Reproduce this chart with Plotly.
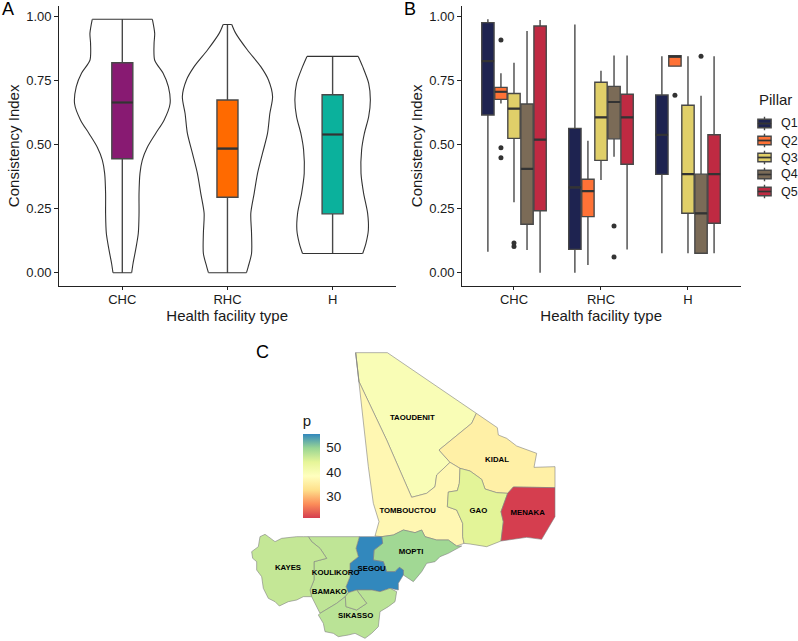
import plotly.graph_objects as go
from plotly.colors import sample_colorscale

W, H = 798, 641

# ---------- Panel A data ----------
facility_types = ["CHC", "RHC", "H"]
facility_pos = [1, 2, 3]
a_q1 = [0.445, 0.295, 0.23]
a_median = [0.665, 0.485, 0.54]
a_q3 = [0.82, 0.675, 0.695]
a_low = [0.0, 0.0, 0.075]
a_up = [0.99, 0.97, 0.845]
a_colors = ["#881a72", "#ff6a00", "#0bb19c"]

violin_chc_y = [0.99, 0.935, 0.896, 0.83, 0.78, 0.727, 0.66, 0.596, 0.544, 0.49, 0.44, 0.388, 0.31, 0.23, 0.154, 0.09, 0.036, 0.0]
violin_chc_w = [0.286, 0.308, 0.302, 0.308, 0.387, 0.438, 0.454, 0.397, 0.317, 0.238, 0.19, 0.168, 0.159, 0.159, 0.152, 0.127, 0.102, 0.089]
violin_rhc_y = [0.97, 0.935, 0.87, 0.805, 0.753, 0.688, 0.622, 0.544, 0.466, 0.388, 0.31, 0.232, 0.154, 0.075, 0.023, 0.0]
violin_rhc_w = [0.041, 0.079, 0.19, 0.317, 0.39, 0.429, 0.403, 0.381, 0.333, 0.286, 0.254, 0.222, 0.229, 0.229, 0.197, 0.181]
violin_h_y = [0.845, 0.805, 0.74, 0.675, 0.61, 0.544, 0.48, 0.388, 0.31, 0.232, 0.167, 0.115, 0.075]
violin_h_w = [0.244, 0.286, 0.343, 0.359, 0.343, 0.302, 0.276, 0.27, 0.295, 0.333, 0.34, 0.317, 0.286]

# ---------- Panel B data ----------
pillars = ["Q1", "Q2", "Q3", "Q4", "Q5"]
pillar_colors = ["#1e2350", "#ff7236", "#e0cf69", "#7b6b57", "#bf2a42"]
b_q1 = [[0.616, 0.091, 0.384], [0.677, 0.219, 0.807], [0.525, 0.439, 0.232], [0.189, 0.523, 0.076], [0.242, 0.424, 0.193]]
b_median = [[0.827, 0.333, 0.539], [0.707, 0.319, 0.844], [0.641, 0.607, 0.385], [0.406, 0.667, 0.232], [0.52, 0.607, 0.385]]
b_q3 = [[0.977, 0.564, 0.694], [0.724, 0.365, 0.848], [0.70, 0.744, 0.654], [0.659, 0.728, 0.385], [0.964, 0.697, 0.539]]
b_low = [[0.082, 0.0, 0.076], [0.661, 0.03, 0.807], [0.275, 0.362, 0.076], [0.089, 0.453, 0.076], [0.0, 0.091, 0.076]]
b_up = [[0.99, 0.97, 0.846], [0.779, 0.516, 0.848], [0.82, 0.789, 0.846], [0.944, 0.849, 0.691], [0.987, 0.849, 0.846]]
# outliers: (pillar index, facility index, value)
out_pillar = [1, 1, 1, 2, 2, 3, 3, 1, 3]
out_facility = [0, 0, 0, 0, 0, 1, 1, 2, 2]
out_value = [0.909, 0.488, 0.449, 0.116, 0.102, 0.182, 0.061, 0.693, 0.846]

# ---------- Panel C data (map units) ----------
region_names = ["TAOUDENIT", "KIDAL", "TOMBOUCTOU", "GAO", "MENAKA", "MOPTI", "SEGOU", "KOULIKORO", "KAYES", "SIKASSO", "BAMAKO"]
region_p = [39.6, 35.5, 36.8, 44.3, 20.8, 49.3, 55.7, 47.0, 46.6, 47.4, 47.0]
label_x = [517, 771, 503, 715, 863, 513, 395, 287, 144, 347, 268]
label_y = [235, 360, 513, 512, 520, 637, 686, 699, 684, 827, 757]
outlines = {
    "TAOUDENIT": [(347,38),(442,38),(709,220),(695,250),(597,330),(630,367),(590,405),(585,440),(560,460),(515,472),(440,300),(357,125)],
    "KIDAL": [(709,220),(772,263),(775,285),(800,295),(830,318),(890,340),(882,382),(945,380),(945,443),(820,441),(803,460),(770,458),(735,447),(725,418),(690,393),(660,385),(630,367),(597,330),(695,250)],
    "TOMBOUCTOU": [(347,38),(357,125),(440,300),(515,472),(560,460),(585,440),(590,405),(630,367),(660,385),(658,430),(652,452),(625,456),(622,500),(650,510),(668,550),(668,590),(672,610),(650,618),(625,600),(590,600),(555,590),(545,570),(525,578),(490,570),(460,585),(425,590),(405,588),(417,545),(400,490),(385,380)],
    "GAO": [(660,385),(690,393),(725,418),(735,447),(770,458),(803,460),(783,515),(790,545),(783,603),(740,620),(690,612),(672,610),(668,590),(668,550),(650,510),(622,500),(625,456),(652,452),(658,430)],
    "MENAKA": [(820,441),(945,443),(945,530),(925,565),(905,598),(860,592),(783,603),(790,545),(783,515),(803,460)],
    "MOPTI": [(425,590),(460,585),(490,570),(525,578),(545,570),(555,590),(590,600),(625,600),(650,618),(665,618),(625,640),(600,650),(585,665),(560,670),(545,695),(520,725),(490,705),(490,690),(478,682),(465,695),(440,695),(430,665),(400,660),(402,630),(428,610)],
    "SEGOU": [(358,590),(425,590),(428,610),(402,630),(400,660),(430,665),(440,695),(465,695),(478,682),(490,690),(490,705),(475,730),(475,750),(450,745),(420,755),(395,750),(350,750),(325,758),(318,740),(330,710),(330,670),(355,650),(348,625)],
    "KOULIKORO": [(205,590),(358,590),(348,625),(355,650),(330,670),(330,710),(318,740),(325,758),(316,770),(290,790),(240,820),(230,800),(215,770),(210,750),(222,720),(222,665),(260,655),(240,625),(215,605)],
    "KAYES": [(60,590),(75,583),(85,590),(105,605),(125,595),(140,593),(170,590),(190,590),(205,590),(215,605),(240,625),(260,655),(222,665),(222,720),(210,750),(215,770),(190,770),(170,780),(145,785),(118,798),(105,785),(85,775),(70,745),(65,710),(50,690),(50,665),(38,655),(35,635),(55,620)],
    "SIKASSO": [(290,790),(316,770),(318,800),(350,810),(380,790),(365,770),(350,750),(395,750),(420,755),(450,745),(470,755),(465,785),(445,800),(420,815),(415,860),(395,880),(375,895),(345,880),(325,885),(295,890),(280,880),(255,875),(250,850),(235,825),(240,820)],
    "BAMAKO": [(325,758),(350,750),(365,770),(380,790),(350,810),(318,800),(316,770)],
}
p_colorscale = ["#d53e4f", "#fc8d59", "#fee08b", "#ffffbf", "#e6f598", "#99d594", "#3288bd"]
p_min, p_max = 20.8, 55.7
p_ticks = [30, 40, 50]

# ---------- Styling constants ----------
FONT = "Liberation Sans"
INK = "#1a1a1a"
BOX_LINE = "#484848"
MEDIAN = "#333333"
BAR_TOP, BAR_BOTTOM, BAR_LEFT, BAR_W = 434, 518, 302.7, 17


def dom_x(a, b):
    return [a / W, b / W]


def dom_y(top, bottom):
    return [1 - bottom / H, 1 - top / H]


fig = go.Figure()


def add_box(x, q1, med, q3, low, up, width, color, xa, ya, med_w=2.2):
    fig.add_trace(go.Box(
        x=[x], q1=[q1], median=[med], q3=[q3], lowerfence=[low], upperfence=[up],
        width=width, whiskerwidth=0, boxpoints=False, fillcolor=color,
        line=dict(color=BOX_LINE, width=1.4), xaxis=xa, yaxis=ya, showlegend=False))
    fig.add_trace(go.Scatter(
        x=[x - width / 2, x + width / 2], y=[med, med], mode="lines",
        line=dict(color=MEDIAN, width=med_w), xaxis=xa, yaxis=ya,
        showlegend=False, hoverinfo="skip"))


# Panel A
violins = [(violin_chc_y, violin_chc_w), (violin_rhc_y, violin_rhc_w), (violin_h_y, violin_h_w)]
for c, (vy, vw) in zip(facility_pos, violins):
    for sign in (1, -1):
        fig.add_trace(go.Scatter(x=[c + sign * w for w in vw], y=vy, mode="lines",
                                 line=dict(color="#333333", width=1.1, shape="spline", smoothing=0.8),
                                 xaxis="x", yaxis="y", showlegend=False, hoverinfo="skip"))
    for k in (0, -1):
        fig.add_trace(go.Scatter(x=[c - vw[k], c + vw[k]], y=[vy[k], vy[k]], mode="lines",
                                 line=dict(color="#333333", width=1.1),
                                 xaxis="x", yaxis="y", showlegend=False, hoverinfo="skip"))
for i, c in enumerate(facility_pos):
    add_box(c, a_q1[i], a_median[i], a_q3[i], a_low[i], a_up[i], 0.2, a_colors[i], "x", "y")

# Panel B
DODGE = 0.15
for p in range(5):
    for f, c in enumerate(facility_pos):
        add_box(c + (p - 2) * DODGE, b_q1[p][f], b_median[p][f], b_q3[p][f], b_low[p][f], b_up[p][f],
                0.142, pillar_colors[p], "x2", "y2")
fig.add_trace(go.Scatter(
    x=[facility_pos[f] + (p - 2) * DODGE for p, f in zip(out_pillar, out_facility)],
    y=out_value, mode="markers", marker=dict(color="#333333", size=5),
    xaxis="x2", yaxis="y2", showlegend=False))

# Pillar legend drawn as small boxes
for i, name in enumerate(pillars):
    k = i + 1
    add_box(0, k - 0.25, k, k + 0.25, k - 0.4, k + 0.4, 0.78, pillar_colors[i], "x4", "y4", med_w=1.4)
    fig.add_annotation(x=780 / W, y=1 - (123.5 + 17 * i) / H, xref="paper", yref="paper",
                       text=name, showarrow=False, xanchor="left", yanchor="middle", borderpad=0,
                       font=dict(family=FONT, size=12.5, color=INK))
fig.add_annotation(x=756.5 / W, y=1 - 100 / H, xref="paper", yref="paper", text="Pillar",
                   showarrow=False, xanchor="left", yanchor="middle",
                   font=dict(family=FONT, size=15, color=INK))

# Panel C
for name, p in zip(region_names, region_p):
    pts = outlines[name] + [outlines[name][0]]
    col = sample_colorscale(p_colorscale, [(p - p_min) / (p_max - p_min)])[0]
    fig.add_trace(go.Scatter(
        x=[q[0] for q in pts], y=[q[1] for q in pts], mode="lines", fill="toself",
        fillcolor=col, line=dict(color="#7f7f7f", width=0.6),
        xaxis="x3", yaxis="y3", showlegend=False, name=name, hoverinfo="name"))
fig.add_trace(go.Scatter(
    x=label_x, y=label_y, mode="markers+text", text=region_names, textposition="middle center",
    textfont=dict(family=FONT, size=7.8, color="black", weight="bold"),
    marker=dict(size=1, opacity=0, color=region_p, cmin=p_min, cmax=p_max,
                colorscale=p_colorscale,
                colorbar=dict(
                    title=dict(text="p", side="top", font=dict(family=FONT, size=15, color=INK)),
                    x=BAR_LEFT / W, xanchor="left", xpad=0, y=1 - BAR_BOTTOM / H, yanchor="bottom", ypad=0,
                    lenmode="pixels", len=BAR_BOTTOM - BAR_TOP + 22, thicknessmode="pixels", thickness=BAR_W,
                    outlinewidth=0, tickvals=p_ticks, ticks="outside", ticklen=4,
                    tickcolor="white", tickfont=dict(family=FONT, size=13.5, color=INK))),
    xaxis="x3", yaxis="y3", showlegend=False, hoverinfo="skip"))

# small white ticks on both sides of the colour bar
bar_shapes = []
for t in p_ticks:
    yy = (H - BAR_BOTTOM + (t - p_min) / (p_max - p_min) * (BAR_BOTTOM - BAR_TOP)) / H
    for x0, x1 in [(BAR_LEFT, BAR_LEFT + 3.4), (BAR_LEFT + BAR_W - 3.4, BAR_LEFT + BAR_W)]:
        bar_shapes.append(dict(type="line", xref="paper", yref="paper", x0=x0 / W, x1=x1 / W, y0=yy, y1=yy,
                               line=dict(color="white", width=0.6), layer="above"))

axis_common = dict(showgrid=False, zeroline=False, showline=True, linecolor="#222222", linewidth=1,
                   ticks="outside", ticklen=3.5, tickwidth=1, tickcolor="#222222",
                   tickfont=dict(family=FONT, size=13, color=INK))
hidden = dict(visible=False, showgrid=False, zeroline=False)


def title(text):
    return dict(text=text, font=dict(family=FONT, size=15, color=INK))


fig.update_layout(
    width=W, height=H, margin=dict(l=0, r=0, t=0, b=0), autosize=False,
    paper_bgcolor="white", plot_bgcolor="white", showlegend=False, boxmode="overlay",
    shapes=bar_shapes,
    xaxis=dict(axis_common, domain=dom_x(58.7, 395.7), range=[0.395, 3.6], ticklabelstandoff=-2,
               tickvals=facility_pos, ticktext=facility_types, title=dict(title("Health facility type"), standoff=2)),
    yaxis=dict(axis_common, domain=dom_y(6, 285.7), range=[-0.0508, 1.042],
               tickvals=[0, 0.25, 0.5, 0.75, 1], tickformat=".2f", title=dict(title("Consistency Index"), standoff=3)),
    xaxis2=dict(axis_common, domain=dom_x(461.7, 740.7), range=[0.399, 3.606], anchor="y2", ticklabelstandoff=-2,
                tickvals=facility_pos, ticktext=facility_types, title=dict(title("Health facility type"), standoff=2)),
    yaxis2=dict(axis_common, domain=dom_y(6, 285.7), range=[-0.0508, 1.042], anchor="x2",
                tickvals=[0, 0.25, 0.5, 0.75, 1], tickformat=".2f", title=dict(title("Consistency Index"), standoff=3)),
    xaxis3=dict(hidden, domain=dom_x(240, 570), range=[0, 990], anchor="y3"),
    yaxis3=dict(hidden, domain=dom_y(340, 640), range=[900, 0], anchor="x3"),
    xaxis4=dict(hidden, domain=dom_x(756, 773), range=[-0.5, 0.5], anchor="y4"),
    yaxis4=dict(hidden, domain=dom_y(115, 200), range=[5.5, 0.5], anchor="x4"),
    annotations=list(fig.layout.annotations) + [
        dict(x=x / W, y=1 - y / H, xref="paper", yref="paper", text=t, showarrow=False,
             xanchor="left", yanchor="middle", font=dict(family=FONT, size=18, color="black"))
        for t, x, y in [("A", 0, 9), ("B", 402, 9), ("C", 254, 352)]
    ],
)

fig.write_html("out.html", config={"displayModeBar": False},
               post_script="document.body.style.margin='0';document.body.style.overflow='hidden';")
